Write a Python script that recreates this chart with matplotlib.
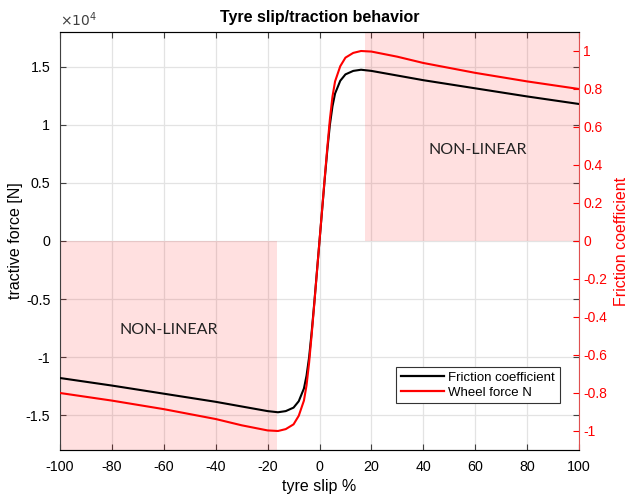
import matplotlib
matplotlib.use("Agg")
import matplotlib.pyplot as plt
from matplotlib.lines import Line2D

plt.rcParams['font.family'] = ['Liberation Sans', 'DejaVu Sans']
plt.rcParams['axes.unicode_minus'] = False

slip = [-100, -80, -60, -40, -30, -20, -16, -13, -10, -8, -6, -5, -4, -3, -2, -1,
        0, 1, 2, 3, 4, 5, 6, 8, 10, 13, 16, 20, 30, 40, 60, 80, 100]
force = [-11800, -12450, -13150, -13850, -14250, -14650, -14750, -14650, -14350, -13800,
         -12700, -11600, -10000, -7800, -5300, -2650, 0, 2650, 5300, 7800, 10000,
         11600, 12700, 13800, 14350, 14650, 14750, 14650, 14250, 13850, 13150, 12450, 11800]
mu = [-0.80, -0.84, -0.885, -0.937, -0.97, -0.997, -1.0, -0.99, -0.965, -0.92, -0.84,
      -0.76, -0.64, -0.49, -0.33, -0.165, 0, 0.165, 0.33, 0.49, 0.64, 0.76, 0.84, 0.92,
      0.965, 0.99, 1.0, 0.997, 0.97, 0.937, 0.885, 0.84, 0.80]

# Nichtlineare Bereiche (Schlupf von/bis)
nonlin_neg = (-100, -16.5)
nonlin_pos = (17.5, 100)

xticks = [-100, -80, -60, -40, -20, 0, 20, 40, 60, 80, 100]
yticks_left = [-15000, -10000, -5000, 0, 5000, 10000, 15000]
yticks_left_lbl = ['-1.5', '-1', '-0.5', '0', '0.5', '1', '1.5']
yticks_right = [-1, -0.8, -0.6, -0.4, -0.2, 0, 0.2, 0.4, 0.6, 0.8, 1]
yticks_right_lbl = ['-1', '-0.8', '-0.6', '-0.4', '-0.2', '0', '0.2', '0.4', '0.6', '0.8', '1']

fig = plt.figure(figsize=(6.32, 4.96), dpi=100)
ax = fig.add_axes([60 / 632, 46 / 496, 519 / 632, 418 / 496])
ax2 = ax.twinx()

ylim_l = 18000
ylim_r = 1.1

# Bereiche schattieren
ax.fill_between(nonlin_neg, -ylim_l, 0, color='red', alpha=0.12, lw=0, zorder=1)
ax.fill_between(nonlin_pos, 0, ylim_l, color='red', alpha=0.12, lw=0, zorder=1)

ax.plot(slip, force, color='black', lw=1.5, zorder=3)
ax2.plot(slip, mu, color='red', lw=1.5)

ax.set_xlim(-100, 100)
ax.set_ylim(-ylim_l, ylim_l)
ax2.set_ylim(-ylim_r, ylim_r)

ax.set_xticks(xticks)
ax.set_yticks(yticks_left)
ax.set_yticklabels(yticks_left_lbl)
ax2.set_yticks(yticks_right)
ax2.set_yticklabels(yticks_right_lbl)

ax.grid(True, color='#e3e3e3', lw=0.9, zorder=0)
ax.set_axisbelow(True)

ax.tick_params(direction='in', length=4, width=0.8, labelsize=10.3, color='#404040',
               top=True, right=True, pad=7)
ax2.tick_params(direction='in', length=4, width=0.8, labelsize=10, colors='red', pad=3)

for s in ['left', 'bottom', 'top']:
    ax.spines[s].set_color('#404040')
ax2.spines['right'].set_color('#e05050')
ax2.spines['left'].set_visible(False)
ax.spines['right'].set_visible(False)

ax.set_xlabel('tyre slip %', fontsize=11.5, labelpad=4)
ax.set_ylabel('tractive force [N]', fontsize=11.5, labelpad=2)
ax2.set_ylabel('Friction coefficient', fontsize=11.5, color='red', rotation=90)
ax2.yaxis.set_label_coords(1.067, 0.5)
ax.set_title('Tyre slip/traction behavior', fontsize=11.5, fontweight='bold', pad=7)

ax.text(0.0, 1.008, r'$\times 10^{4}$', transform=ax.transAxes, fontsize=10,
        ha='left', va='bottom', color='#404040')

ax.text(-58, -7700, 'NON-LINEAR', fontsize=11.5, family='Lato', ha='center', va='center',
        color='#222222', zorder=4)
ax.text(61, 7800, 'NON-LINEAR', fontsize=11.5, family='Lato', ha='center', va='center',
        color='#222222', zorder=4)

handles = [Line2D([], [], color='black', lw=1.6), Line2D([], [], color='red', lw=1.6)]
leg = ax2.legend(handles, ['Friction coefficient', 'Wheel force N'], loc='lower right',
                 bbox_to_anchor=(0.963, 0.112), borderaxespad=0, fontsize=9.5,
                 fancybox=False, framealpha=1, edgecolor='#333333', handlelength=3.3,
                 handletextpad=0.3, borderpad=0.35, labelspacing=0.2)
leg.get_frame().set_linewidth(0.8)

fig.savefig('out.png', dpi=100)
